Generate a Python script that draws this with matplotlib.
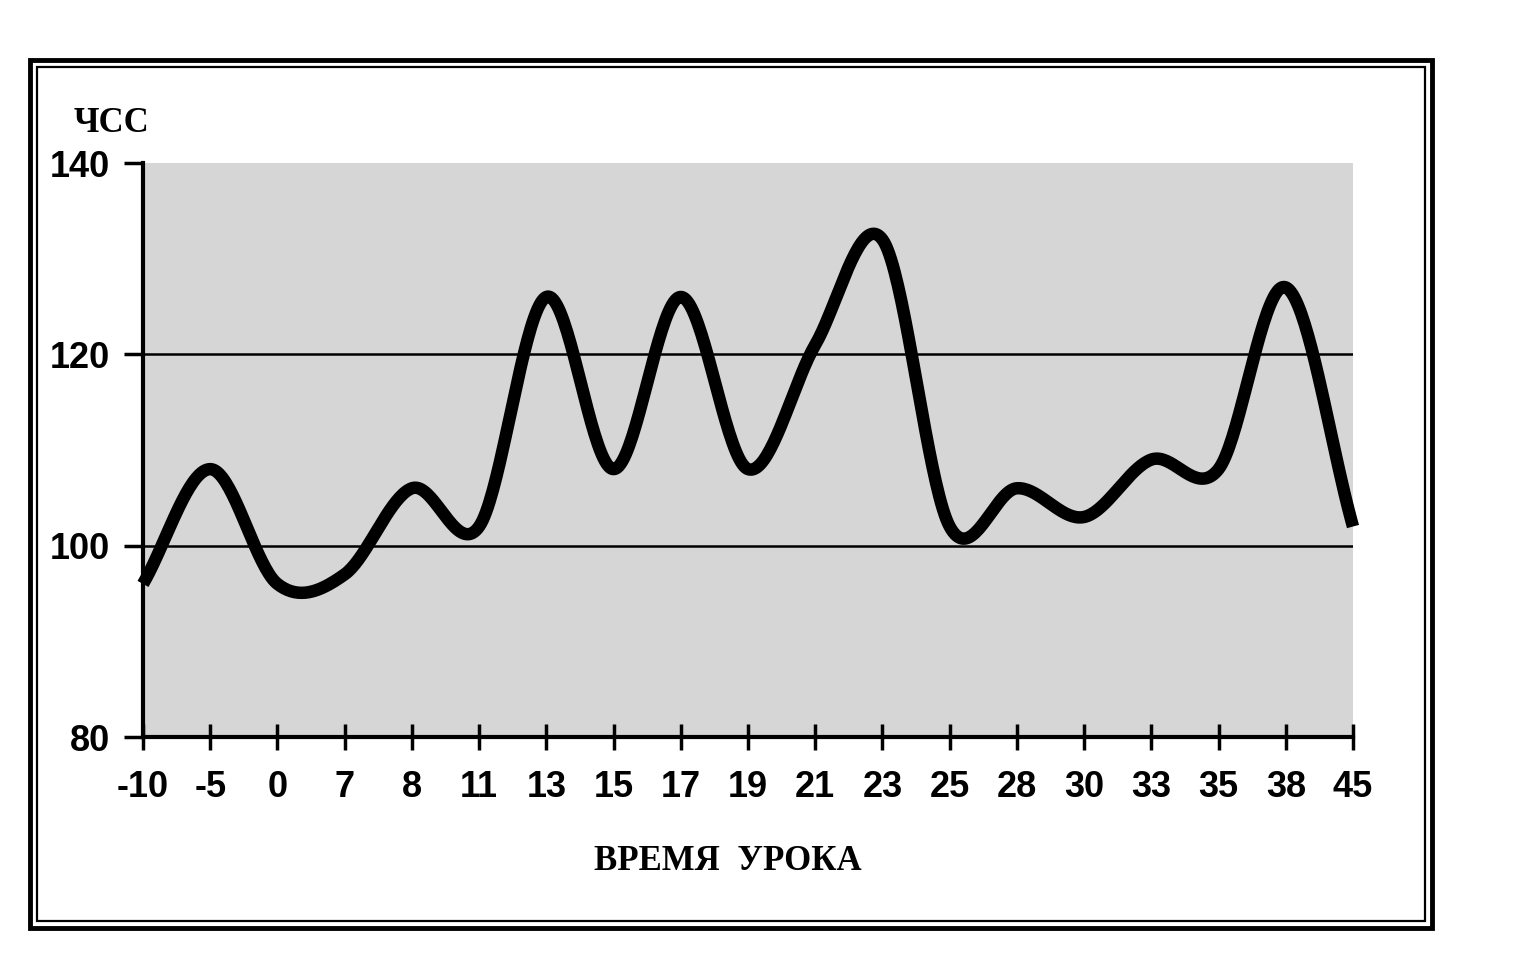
import numpy as np
import matplotlib
matplotlib.use("Agg")
import matplotlib.pyplot as plt
from matplotlib.patches import Rectangle

# ---- data ----
time_labels = ["-10", "-5", "0", "7", "8", "11", "13", "15", "17", "19",
               "21", "23", "25", "28", "30", "33", "35", "38", "45"]
hr_values = [96, 108, 96, 97, 106, 102, 126, 108, 126, 108,
             121, 132, 102, 106, 103, 109, 108, 127, 102]
y_ticks = [80, 100, 120, 140]
y_label = "ЧСС"
x_label = "ВРЕМЯ  УРОКА"

W, H, DPI = 1513, 963, 100
fig = plt.figure(figsize=(W / DPI, H / DPI), dpi=DPI)
fig.patch.set_facecolor("white")

def fx(px):
    return px / W

def fy(py):
    return 1 - py / H

ax_left, ax_right, ax_top, ax_bottom = 143, 1353, 163, 737
ax = fig.add_axes([fx(ax_left), fy(ax_bottom), fx(ax_right - ax_left),
                   (ax_bottom - ax_top) / H])
ax.set_facecolor("#d6d6d6")

# smoothed line (Catmull-Rom through the data points, like Excel smoothing)
xs = np.arange(len(hr_values), dtype=float)
ys = np.array(hr_values, dtype=float)
n = len(ys)
m = np.zeros(n)
m[1:-1] = (ys[2:] - ys[:-2]) / 2
m[0] = ys[1] - ys[0]
m[-1] = ys[-1] - ys[-2]
cx, cy = [], []
t = np.linspace(0, 1, 40)
h00 = 2 * t**3 - 3 * t**2 + 1
h10 = t**3 - 2 * t**2 + t
h01 = -2 * t**3 + 3 * t**2
h11 = t**3 - t**2
for i in range(n - 1):
    seg = h00 * ys[i] + h10 * m[i] + h01 * ys[i + 1] + h11 * m[i + 1]
    cx.extend(xs[i] + t)
    cy.extend(seg)

for g in (100, 120):
    ax.axhline(g, color="black", lw=1.8, zorder=1)
ax.plot(cx, cy, color="black", lw=9, solid_capstyle="butt", zorder=3,
        clip_on=False)

ax.set_xlim(0, n - 1)
ax.set_ylim(80, 140)
ax.set_xticks(xs)
ax.set_xticklabels(time_labels)
ax.set_yticks(y_ticks)

for s in ("top", "right"):
    ax.spines[s].set_visible(False)
for s in ("left", "bottom"):
    ax.spines[s].set_linewidth(3)

for lab in ax.get_xticklabels() + ax.get_yticklabels():
    lab.set_fontfamily("Liberation Sans")
    lab.set_fontweight("bold")
    lab.set_fontsize(26)
ax.tick_params(axis="x", direction="inout", length=19, width=2.5, pad=14)
ax.tick_params(axis="y", direction="out", length=14, width=2.5, pad=10)

fig.text(fx(74), fy(132), y_label, family="Liberation Serif", weight="bold",
         fontsize=25, ha="left", va="baseline")
fig.text(fx(728), fy(862), x_label, family="Liberation Serif", weight="bold",
         fontsize=25, ha="center", va="center")

# double frame
fig.add_artist(Rectangle((fx(30), fy(928)), fx(1432 - 30), (928 - 60) / H,
                         transform=fig.transFigure, fill=False,
                         edgecolor="black", lw=3.5))
fig.add_artist(Rectangle((fx(37), fy(921)), fx(1425 - 37), (921 - 67) / H,
                         transform=fig.transFigure, fill=False,
                         edgecolor="black", lw=1.6))

fig.savefig("out.png", dpi=DPI)
